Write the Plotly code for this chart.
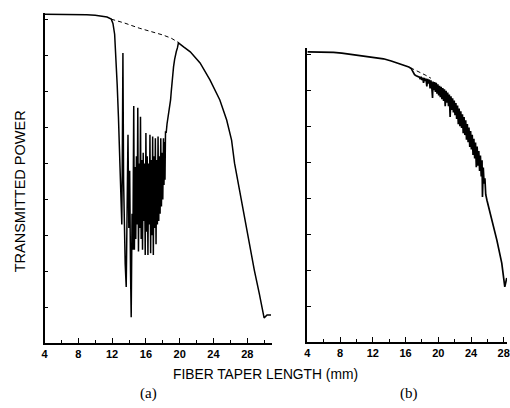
import plotly.graph_objects as go

# ---------------- data ----------------
# Panel (a)
a_len = [4.0, 5.0, 6.0, 7.0, 8.0, 9.0, 10.0, 10.8, 11.4, 11.9, 12.1, 12.3, 12.45, 12.6, 12.75,
         12.86, 12.95, 13.05, 13.15, 13.22, 13.28, 13.36, 13.45, 13.55, 13.67, 13.78, 13.88,
         13.98, 14.08, 14.18, 14.26, 14.36, 14.46,
         14.56, 14.64, 14.72, 14.8, 14.88, 14.96, 15.04, 15.12, 15.2, 15.28, 15.36, 15.44,
         15.52, 15.6, 15.68, 15.76, 15.84, 15.92, 16.0, 16.08, 16.16, 16.24, 16.32, 16.4,
         16.48, 16.56, 16.64, 16.72, 16.8, 16.88, 16.96, 17.04, 17.12, 17.2, 17.28, 17.36,
         17.44, 17.52, 17.6, 17.68, 17.76, 17.84, 17.92, 18.0, 18.08, 18.14, 18.2,
         18.26, 18.32, 18.4, 18.5, 18.57, 18.65, 18.75,
         18.85, 18.92, 19.0, 19.1, 19.2, 19.27, 19.4, 19.5, 19.6, 19.73, 19.85,
         20.5, 21.25, 22.41, 23.58, 24.75, 25.56, 26.14, 26.49, 27.08, 27.66, 28.24, 28.83,
         29.41, 29.76, 29.99, 30.34, 30.81]
a_power = [9.16, 9.16, 9.16, 9.15, 9.15, 9.14, 9.13, 9.11, 9.08, 9.02, 8.9, 8.6, 8.0, 7.2, 6.3,
           5.4, 4.6, 3.9, 3.3, 5.6, 8.08, 4.5, 3.0, 2.2, 1.56, 3.4, 5.8,
           3.2, 4.8, 2.0, 0.72, 3.6, 2.6,
           6.6, 2.6, 4.9, 2.9, 5.2, 3.3, 6.55, 2.55, 5.0, 3.2, 6.3, 2.9,
           5.1, 2.6, 5.3, 3.4, 5.0, 2.45, 5.85, 3.1, 5.2, 2.45, 5.0, 3.3,
           5.8, 2.5, 5.1, 3.0, 5.75, 2.45, 5.2, 3.2, 5.7, 2.75, 5.1, 3.3,
           5.75, 3.4, 5.2, 3.6, 5.7, 3.8, 5.3, 4.0, 5.7, 4.4, 5.6,
           4.55, 5.9, 5.85, 6.1, 6.2, 6.3, 6.45,
           6.65, 6.77, 7.0, 7.3, 7.55, 7.69, 7.9, 8.05, 8.12, 8.22, 8.36,
           8.24, 8.11, 7.80, 7.33, 6.77, 6.21, 5.65, 5.01, 4.26, 3.51, 2.79, 2.03,
           1.39, 0.92, 0.70, 0.78, 0.78]
a_ref_len = [11.9, 13.5, 15.2, 16.6, 18.0, 19.0, 19.85]
a_ref_power = [9.02, 8.91, 8.77, 8.68, 8.58, 8.49, 8.37]

# Panel (b)
b_len = [4.0, 5.0, 6.3, 7.2, 8.2, 9.2, 10.3, 11.3, 12.3, 13.3, 14.25, 15.1, 15.9, 16.4, 16.7,
         16.9, 17.1, 17.3, 17.5, 17.7, 17.8, 17.9, 18.0, 18.1, 18.2, 18.3, 18.4, 18.5, 18.6,
         18.7, 18.8, 18.9, 19.0, 19.1, 19.2, 19.3, 19.35, 19.45, 19.55, 19.65, 19.75, 19.85,
         19.95, 20.05, 20.15, 20.25, 20.35, 20.45, 20.55, 20.65, 20.75, 20.85, 20.95, 21.05,
         21.15, 21.25, 21.35, 21.45, 21.55, 21.65, 21.75, 21.85, 21.95, 22.05, 22.15, 22.25,
         22.35, 22.45, 22.55, 22.65, 22.75, 22.85, 22.95, 23.05, 23.15, 23.25, 23.35, 23.45,
         23.55, 23.65, 23.75, 23.85, 23.95, 24.05, 24.15, 24.25, 24.35, 24.45, 24.55, 24.65,
         24.75, 24.85, 24.95, 25.05, 25.15, 25.25, 25.35, 25.4, 25.5, 25.6, 25.7, 25.8,
         25.95, 26.56, 27.16, 27.76, 28.13, 28.37]
b_power = [8.06, 8.06, 8.06, 8.05, 8.03, 8.00, 7.97, 7.95, 7.92, 7.87, 7.81, 7.75, 7.69, 7.64, 7.60,
           7.52, 7.43, 7.40, 7.38, 7.36, 7.30, 7.37, 7.28, 7.35, 7.20, 7.34, 7.25, 7.32, 7.10,
           7.31, 7.18, 7.29, 7.05, 7.27, 7.10, 6.78, 7.24, 7.00, 7.22, 6.95, 7.20, 6.90,
           7.16, 6.85, 7.12, 6.80, 7.09, 6.75, 7.06, 6.70, 7.02, 6.55, 6.98, 6.65,
           6.93, 6.55, 6.88, 6.25, 6.83, 6.45, 6.77, 6.38, 6.71, 6.30, 6.64, 6.20,
           6.57, 6.05, 6.49, 6.00, 6.41, 5.95, 6.33, 5.80, 6.25, 5.75, 6.16, 5.62,
           6.06, 5.55, 5.96, 5.42, 5.86, 5.35, 5.76, 5.20, 5.65, 5.10, 5.54, 4.86,
           5.43, 4.90, 5.31, 4.75, 5.18, 4.60, 5.05, 4.03, 4.85, 4.40, 4.55, 4.10,
           3.94, 3.39, 2.83, 2.19, 1.53, 1.78]
b_ref_len = [16.6, 17.2, 17.8, 18.4, 19.1]
b_ref_power = [7.62, 7.56, 7.50, 7.42, 7.33]

x_tick_vals = [4, 8, 12, 16, 20, 24, 28]
x_tick_text = ["4", "8", "12", "16", "20", "24", "28"]
x_minor_vals = [6, 10, 14, 18, 22, 26, 30]
a_y_ticks = [1, 2, 3, 4, 5, 6, 7, 8, 9]
b_y_ticks = [1, 2, 3, 4, 5, 6, 7, 8]

assert len(a_len) == len(a_power)
assert len(b_len) == len(b_power)

# ---------------- figure ----------------
W, H = 510, 408
fig = go.Figure()

fig.add_trace(go.Scatter(x=a_len, y=a_power, mode="lines",
                         line=dict(color="black", width=1.5), xaxis="x", yaxis="y",
                         showlegend=False))
fig.add_trace(go.Scatter(x=a_ref_len, y=a_ref_power, mode="lines",
                         line=dict(color="black", width=1, dash="4px,3px"), xaxis="x", yaxis="y",
                         showlegend=False))
fig.add_trace(go.Scatter(x=b_len, y=b_power, mode="lines",
                         line=dict(color="black", width=1.7), xaxis="x2", yaxis="y2",
                         showlegend=False))
fig.add_trace(go.Scatter(x=b_ref_len, y=b_ref_power, mode="lines",
                         line=dict(color="black", width=1, dash="4px,3px"), xaxis="x2", yaxis="y2",
                         showlegend=False))

tickfont = dict(family="Liberation Sans, Arial, sans-serif", size=11, color="black", weight="bold")

def xax(domain, rng, anchor):
    return dict(domain=domain, range=rng, anchor=anchor, showgrid=False, zeroline=False,
                showline=True, linecolor="black", linewidth=1.5,
                tickmode="array", tickvals=x_tick_vals, ticktext=x_tick_text,
                ticks="inside", ticklen=5, tickwidth=1, tickcolor="black",
                tickfont=tickfont, ticklabeloverflow="allow",
                minor=dict(tickmode="array", tickvals=x_minor_vals,
                           ticks="inside", ticklen=3, tickwidth=1, tickcolor="black"),
                fixedrange=True)

def yax(domain, rng, anchor, tv):
    return dict(domain=domain, range=rng, anchor=anchor, showgrid=False, zeroline=False,
                showline=True, linecolor="black", linewidth=1.5,
                tickmode="array", tickvals=tv, showticklabels=False,
                ticks="inside", ticklen=4, tickwidth=1, tickcolor="black",
                fixedrange=True)

a_px_left, a_px_right = 42, 272
a_px_bottom, a_px_top = 343, 12.7
b_px_left, b_px_right = 308, 510
b_px_bottom, b_px_top = 342, 48

fig.update_layout(
    width=W, height=H, autosize=False,
    margin=dict(l=0, r=0, t=0, b=0),
    paper_bgcolor="white", plot_bgcolor="white",
    xaxis=xax([a_px_left / W, a_px_right / W], [4, 30.9], "y"),
    yaxis=yax([1 - a_px_bottom / H, 1 - a_px_top / H], [0, 9.2], "x", a_y_ticks),
    xaxis2=xax([b_px_left / W, b_px_right / W], [4, 28.4], "y2"),
    yaxis2=yax([1 - b_px_bottom / H, 1 - b_px_top / H], [0, 8.17], "x2", b_y_ticks),
    annotations=[
        dict(text="TRANSMITTED POWER", x=17.5 / W, y=1 - 191 / H, xref="paper", yref="paper",
             textangle=-90, showarrow=False, xanchor="center", yanchor="middle",
             font=dict(family="Liberation Sans, Arial, sans-serif", size=14.5, color="black")),
        dict(text="FIBER TAPER LENGTH (mm)", x=266 / W, y=1 - 374 / H, xref="paper", yref="paper",
             showarrow=False, xanchor="center", yanchor="middle",
             font=dict(family="Liberation Sans, Arial, sans-serif", size=13.8, color="black")),
        dict(text="(a)", x=147 / W, y=1 - 393 / H, xref="paper", yref="paper",
             showarrow=False, xanchor="center", yanchor="middle",
             font=dict(family="Liberation Serif, Times New Roman, serif", size=15, color="black")),
        dict(text="(b)", x=411 / W, y=1 - 393 / H, xref="paper", yref="paper",
             showarrow=False, xanchor="center", yanchor="middle",
             font=dict(family="Liberation Serif, Times New Roman, serif", size=15, color="black")),
    ],
)

fig.write_html("out.html", config={"displayModeBar": False},
               post_script="document.body.style.margin='0';document.body.style.overflow='hidden';")
